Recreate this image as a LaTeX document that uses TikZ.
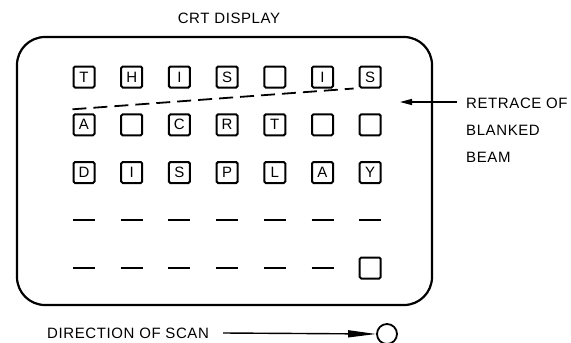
\documentclass[tikz,border=0pt]{standalone}
\usepackage{fontspec}
\setmainfont{Liberation Sans}
\newfontfamily\notefont[LetterSpace=4]{Liberation Sans}
\usetikzlibrary{positioning,arrows.meta,calc}

\tikzset{
    cell/.style={draw, line width=2pt, rounded corners=1.5pt,
        minimum size=21pt, inner sep=0pt, font=\fontsize{15}{15}\selectfont},
    blankmark/.style={line width=2.4pt},
    note/.style={inner sep=0pt, font=\notefont\fontsize{15}{27}\selectfont},
    retraceline/.style={line width=1.8pt, dash pattern=on 14pt off 7pt}
}

\begin{document}
\begin{tikzpicture}[x=1pt, y=-1pt, >=Triangle]
\useasboundingbox (0,0) rectangle (571,343);

% Pantalla
\node[draw, line width=2.2pt, rounded corners=28pt,
      minimum width=415pt, minimum height=268pt] (display) at (224.5,171) {};
\node[note] (title) at (229,18) {CRT DISPLAY};

% Filas de caracteres
\foreach \c/\ch in {1/T,2/H,3/I,4/S,5/{},6/I,7/S}
    \node[cell] (cell-1-\c) at ({84+47.7*(\c-1)},77) {\ch};
\foreach \c/\ch in {1/A,2/{},3/C,4/R,5/T,6/{},7/{}}
    \node[cell] (cell-2-\c) at ({84+47.7*(\c-1)},124.8) {\ch};
\foreach \c/\ch in {1/D,2/I,3/S,4/P,5/L,6/A,7/Y}
    \node[cell] (cell-3-\c) at ({84+47.7*(\c-1)},172.5) {\ch};

% Posiciones vacias
\foreach \c in {1,...,7} {
    \coordinate (cell-4-\c) at ({84+47.7*(\c-1)},220.2);
    \draw[blankmark] ([xshift=-11pt]cell-4-\c) -- ([xshift=11pt]cell-4-\c);
}
\foreach \c in {1,...,6} {
    \coordinate (cell-5-\c) at ({84+47.7*(\c-1)},268);
    \draw[blankmark] ([xshift=-11pt]cell-5-\c) -- ([xshift=11pt]cell-5-\c);
}
\node[cell] (cell-5-7) at ({84+47.7*6},268) {};

% Retorno del haz
\draw[retraceline] ([yshift=4pt]cell-2-1.north west) -- ([xshift=-5pt]cell-1-7.south west);

\coordinate (retrace-start) at (457,102);
\coordinate (retrace-end) at (400,102);
\draw[line width=1.4pt, -{Triangle[length=12pt,width=6pt]}] (retrace-start) -- (retrace-end);
\node[note, anchor=north west, align=left] (retrace) at (466,97.5)
    {RETRACE OF\\BLANKED\\BEAM};

% Direccion de barrido
\node[note, anchor=west] (scan) at (47,333) {DIRECTION OF SCAN};
\node[draw, circle, line width=1.8pt, minimum size=20pt, inner sep=0pt] (spot) at (387,334) {};
\draw[line width=1.4pt, -{Triangle[length=28pt,width=7pt]}]
    ([xshift=14pt]scan.east) -- (spot.west);

\end{tikzpicture}
\end{document}
